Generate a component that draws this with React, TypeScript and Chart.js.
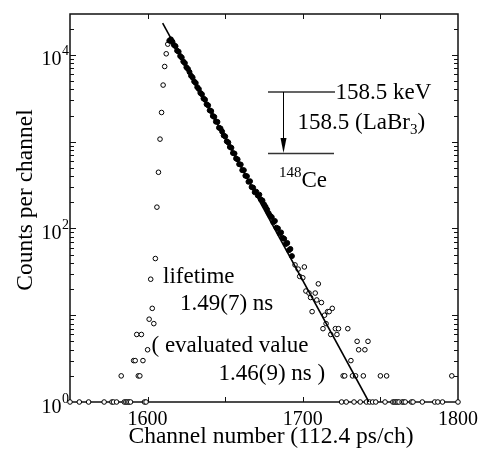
import React, { useEffect, useRef } from "react";
import { Chart, registerables } from "chart.js";

Chart.register(...registerables);

// ---------- data ----------
const openChannels = [
  1550, 1556, 1562, 1572, 1577, 1578, 1580, 1583, 1585, 1586, 1587, 1588, 1589,
  1591, 1592, 1593, 1594, 1595, 1596, 1597, 1598, 1599, 1600, 1601, 1602, 1603,
  1604, 1605, 1606, 1607, 1608, 1609, 1610, 1611, 1612, 1613,
  1695, 1697, 1698, 1700, 1701, 1702, 1704, 1705, 1706, 1708, 1709, 1710, 1712,
  1713, 1714, 1715, 1716, 1717, 1718, 1719, 1721, 1722, 1723, 1725, 1726, 1727,
  1728, 1729, 1731, 1732, 1733, 1734, 1735, 1736, 1737, 1739, 1740, 1741, 1742,
  1743, 1745, 1747, 1750, 1753, 1754, 1758, 1759, 1760, 1761, 1762, 1764, 1765,
  1766, 1770, 1771, 1777, 1785, 1787, 1790, 1796, 1800,
];
const openCounts = [
  1, 1, 1, 1, 1, 1, 1, 2, 1, 1, 1, 1, 1,
  3, 3, 6, 2, 2, 6, 3, 1, 1, 4, 9, 26, 12,
  8, 45, 176, 444, 1070, 2170, 4490, 7350, 10300, 13300,
  38, 34, 28, 27, 36, 19, 18, 16, 11, 18, 15, 23, 14,
  7, 10, 8, 11, 11, 6, 12, 7, 6, 7, 1, 2, 2,
  1, 7, 3, 2, 1, 2, 5, 4, 1, 2, 4, 1, 5,
  1, 1, 1, 2, 1, 2, 1, 1, 1, 1, 1, 1, 1,
  1, 1, 1, 1, 1, 1, 1, 2, 1,
];

const filledChannels = [
  1614, 1615, 1616, 1617, 1618, 1619, 1620, 1621, 1622, 1623, 1624, 1625, 1626,
  1627, 1628, 1629, 1630, 1631, 1632, 1633, 1634, 1635, 1636, 1637, 1638, 1639,
  1640, 1641, 1642, 1643, 1644, 1645, 1646, 1647, 1648, 1649, 1650, 1651, 1652,
  1653, 1654, 1655, 1656, 1657, 1658, 1659, 1660, 1661, 1662, 1663, 1664, 1665,
  1666, 1667, 1668, 1669, 1670, 1671, 1672, 1673, 1674, 1675, 1676, 1677, 1678,
  1679, 1680, 1681, 1682, 1683, 1684, 1685, 1686, 1687, 1688, 1689, 1690, 1691,
  1692, 1693,
];
const filledCounts = [
  14600, 15100, 14200, 13000, 12600, 11200, 10900, 9700, 9350, 8400, 8050, 7200, 6900,
  6350, 5750, 5500, 4950, 4750, 4250, 4050, 3650, 3520, 3150, 3050, 2700, 2620,
  2300, 2250, 1980, 1930, 1700, 1690, 1450, 1420, 1310, 1180, 1150, 1010, 980,
  870, 850, 740, 730, 640, 625, 550, 545, 470, 470, 405, 400, 345,
  350, 300, 295, 262, 265, 240, 245, 215, 210, 190, 178, 165, 150,
  140, 135, 118, 122, 102, 100, 88, 90, 78, 76, 66, 68, 56,
  58, 48,
];

// exponential fit line end points
const fitChannels = [1609.7, 1742.6];
const fitCounts = [23300, 1];

const xMin = 1550;
const xMax = 1800;
const yMin = 1;
const yMax = 29600;
const xTickMarks = [1600, 1650, 1700, 1750];
const xTickLabels = [1600, 1700, 1800];
const yDecades = [1, 10, 100, 1000, 10000];
const yLabelDecades = [1, 100, 10000];
const yLabelExponents = ["0", "2", "4"];

const xTitle = "Channel number (112.4 ps/ch)";
const yTitle = "Counts per channel";

const SERIF = '"Liberation Serif", "Times New Roman", serif';

const decorPlugin = {
  id: "decor",
  beforeDatasetsDraw(chart: any) {
    const { ctx, chartArea: a, scales } = chart;
    const xs = scales.x;
    const ys = scales.y;
    ctx.save();
    ctx.strokeStyle = "#111";
    ctx.lineWidth = 1.5;
    ctx.strokeRect(a.left, a.top, a.right - a.left, a.bottom - a.top);
    ctx.lineWidth = 1;
    ctx.beginPath();
    for (const v of xTickMarks) {
      const px = Math.round(xs.getPixelForValue(v)) + 0.5;
      ctx.moveTo(px, a.top);
      ctx.lineTo(px, a.top + 5);
      ctx.moveTo(px, a.bottom);
      ctx.lineTo(px, a.bottom - 5);
    }
    for (const d of yDecades) {
      for (let m = 1; m <= 9; m++) {
        const v = d * m;
        if (v > yMax || v <= yMin) continue;
        const py = Math.round(ys.getPixelForValue(v)) + 0.5;
        const len = m === 1 ? 6 : 4;
        ctx.moveTo(a.left, py);
        ctx.lineTo(a.left + len, py);
        ctx.moveTo(a.right, py);
        ctx.lineTo(a.right - len, py);
      }
    }
    ctx.stroke();
    ctx.restore();
  },
  afterDraw(chart: any) {
    const { ctx, chartArea: a, scales } = chart;
    const xs = scales.x;
    const ys = scales.y;
    ctx.save();
    ctx.fillStyle = "#000";
    ctx.textBaseline = "alphabetic";

    // x tick labels
    ctx.font = `20px ${SERIF}`;
    ctx.textAlign = "center";
    for (const v of xTickLabels) {
      ctx.fillText(String(v), xs.getPixelForValue(v), a.bottom + 23);
    }
    // y tick labels 10^n
    yLabelDecades.forEach((v, i) => {
      const py = ys.getPixelForValue(v);
      ctx.font = `20px ${SERIF}`;
      ctx.textAlign = "right";
      ctx.fillText("10", a.left - 8.5, py + 10.5);
      ctx.font = `14px ${SERIF}`;
      ctx.textAlign = "left";
      ctx.fillText(yLabelExponents[i], a.left - 8, py + 0.5);
    });

    // axis titles
    ctx.font = `23.5px ${SERIF}`;
    ctx.textAlign = "center";
    ctx.fillText(xTitle, (a.left + a.right) / 2 + 7, a.bottom + 41);
    ctx.save();
    ctx.translate(32, (a.top + a.bottom) / 2 - 8);
    ctx.rotate(-Math.PI / 2);
    ctx.fillText(yTitle, 0, 0);
    ctx.restore();

    // level scheme
    const L = a.left;
    const T = a.top;
    ctx.strokeStyle = "#333";
    ctx.lineWidth = 1.3;
    ctx.beginPath();
    ctx.moveTo(L + 198, T + 78);
    ctx.lineTo(L + 265, T + 78);
    ctx.moveTo(L + 198, T + 139.5);
    ctx.lineTo(L + 264, T + 139.5);
    ctx.stroke();
    ctx.strokeStyle = "#000";
    ctx.lineWidth = 1;
    ctx.beginPath();
    ctx.moveTo(L + 213.5, T + 78);
    ctx.lineTo(L + 213.5, T + 126);
    ctx.stroke();
    ctx.beginPath();
    ctx.moveTo(L + 210.5, T + 124);
    ctx.lineTo(L + 216.5, T + 124);
    ctx.lineTo(L + 213.5, T + 139);
    ctx.closePath();
    ctx.fill();

    ctx.textAlign = "left";
    ctx.font = `23px ${SERIF}`;
    ctx.fillText("158.5 keV", L + 265.5, T + 85);
    let x = L + 227.5;
    const yb = T + 115;
    ctx.fillText("158.5 (LaBr", x, yb);
    x += ctx.measureText("158.5 (LaBr").width;
    ctx.font = `15px ${SERIF}`;
    ctx.fillText("3", x, yb + 5);
    x += ctx.measureText("3").width;
    ctx.font = `23px ${SERIF}`;
    ctx.fillText(")", x, yb);

    ctx.font = `15px ${SERIF}`;
    ctx.fillText("148", L + 209, T + 163);
    const wIso = ctx.measureText("148").width;
    ctx.font = `23px ${SERIF}`;
    ctx.fillText("Ce", L + 209 + wIso, T + 173);

    // lifetime text
    ctx.fillText("lifetime", L + 93, T + 269);
    ctx.fillText("1.49(7) ns", L + 110, T + 296);
    ctx.fillText("( evaluated value", L + 81.5, T + 338);
    ctx.fillText("1.46(9) ns )", L + 148.5, T + 366);

    ctx.restore();
  },
};

export default function App() {
  const canvasRef = useRef<HTMLCanvasElement | null>(null);

  useEffect(() => {
    const canvas = canvasRef.current;
    if (!canvas) return;
    const openData = openChannels.map((c, i) => ({ x: c, y: openCounts[i] }));
    const filledData = filledChannels.map((c, i) => ({ x: c, y: filledCounts[i] }));
    const fitData = fitChannels.map((c, i) => ({ x: c, y: fitCounts[i] }));

    const chart = new Chart(canvas, {
      type: "scatter",
      data: {
        datasets: [
          {
            label: "fit",
            data: fitData,
            showLine: true,
            borderColor: "#000",
            borderWidth: 1.6,
            pointRadius: 0,
            order: 0,
          } as any,
          {
            label: "fit region",
            data: filledData,
            backgroundColor: "#000",
            borderColor: "#000",
            borderWidth: 1,
            pointRadius: 2.5,
            clip: false,
            order: 1,
          } as any,
          {
            label: "counts",
            data: openData,
            backgroundColor: "#fff",
            borderColor: "#000",
            borderWidth: 1,
            pointRadius: 2.3,
            clip: false,
            order: 2,
          } as any,
        ],
      },
      options: {
        responsive: false,
        animation: false,
        devicePixelRatio: 1,
        layout: { padding: { left: 70, right: 21, top: 14, bottom: 48 } },
        plugins: {
          legend: { display: false },
          tooltip: { enabled: false },
        },
        scales: {
          x: { type: "linear", min: xMin, max: xMax, display: false },
          y: { type: "logarithmic", min: yMin, max: yMax, display: false },
        },
      },
      plugins: [decorPlugin],
    });
    return () => chart.destroy();
  }, []);

  return (
    <div style={{ position: "absolute", left: 0, top: 0, width: 479, height: 450, background: "#fff" }}>
      <canvas ref={canvasRef} width={479} height={450} />
    </div>
  );
}
